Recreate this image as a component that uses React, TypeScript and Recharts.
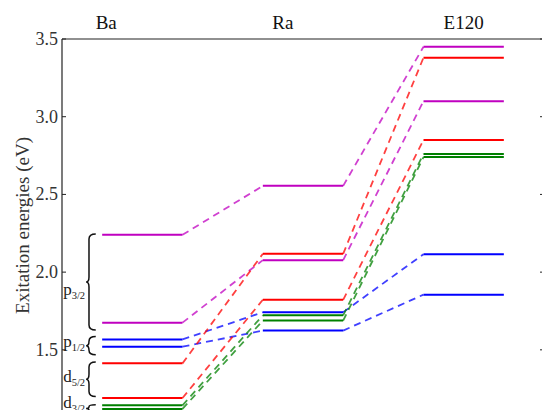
import { LineChart, Line, XAxis, YAxis, ReferenceArea } from 'recharts'

const atoms = ['Ba', 'Ra', 'E120']
const atomTicks = [1.05, 3.25, 5.5]
const energyTicks = [1.5, 2.0, 2.5, 3.0, 3.5]

// excitation energies (eV) of each state, same order in every array
const states = ['1P1', '3P2', '3P1', '3P0', '1D2', '3D3', '3D2', '3D1']
const stateColors = ['#c000c0', '#c000c0', '#0000ff', '#0000ff', '#ff0000', '#ff0000', '#008000', '#008000']
const baLevels = [2.24, 1.675, 1.567, 1.52, 1.413, 1.19, 1.143, 1.12]
const raLevels = [2.555, 2.077, 1.742, 1.624, 2.118, 1.822, 1.722, 1.688]
const e120Levels = [3.45, 3.1, 2.115, 1.855, 3.38, 2.85, 2.76, 2.74]

// fine-structure groups bracketed next to the Ba levels
const groupLetters = ['p', 'p', 'd', 'd']
const groupJ = ['3/2', '1/2', '5/2', '3/2']
const groupTop = [2.245, 1.585, 1.422, 1.146]
const groupBottom = [1.628, 1.468, 1.2, 1.1]
const groupLabelAt = [1.85, 1.52, 1.295, 1.125]

const ink = '#222'
const font = '"Liberation Serif", "Times New Roman", serif'

const solidData = (i: number) => [
  { x: 1, e: baLevels[i] },
  { x: 2, e: baLevels[i] },
  { x: 2.5, e: null },
  { x: 3, e: raLevels[i] },
  { x: 4, e: raLevels[i] },
  { x: 4.5, e: null },
  { x: 5, e: e120Levels[i] },
  { x: 6, e: e120Levels[i] },
]

const dashedData = (i: number) => [
  { x: 2, e: baLevels[i] },
  { x: 3, e: raLevels[i] },
  { x: 3.5, e: null },
  { x: 4, e: raLevels[i] },
  { x: 5, e: e120Levels[i] },
]

const AtomTick = ({ x, y, payload }: any) => (
  <text x={x} y={y} textAnchor="middle" fontSize={19} fill="#111" fontFamily={font}>
    {atoms[atomTicks.indexOf(payload.value)]}
  </text>
)

const LeftTick = ({ x, y, payload }: any) => (
  <g>
    <line x1={x + 4} x2={x + 8} y1={y} y2={y} stroke={ink} strokeWidth={1} />
    <text x={x} y={y} textAnchor="end" dominantBaseline="central" fontSize={18} fill="#333" fontFamily={font}>
      {payload.value.toFixed(1)}
    </text>
  </g>
)

const RightTick = ({ x, y }: any) => (
  <line x1={x - 4} x2={x} y1={y} y2={y} stroke={ink} strokeWidth={1} />
)

const EnergyLabel = ({ viewBox }: any) => {
  const cx = viewBox.x + 22
  const cy = viewBox.y + viewBox.height / 2
  return (
    <text
      x={cx}
      y={cy}
      transform={`rotate(-90 ${cx} ${cy})`}
      textAnchor="middle"
      dominantBaseline="central"
      fontSize={19}
      fill="#333"
      fontFamily={font}
    >
      Exitation energies (eV)
    </text>
  )
}

// curly brace opening to the right, with the term label on its left
const Brace = ({ x, y, width, height, idx }: any) => {
  const stem = x + width * 0.3
  const mid = y + height / 2
  const r = Math.min(5, height / 4)
  const d =
    `M${x + width},${y} Q${stem},${y} ${stem},${y + r} ` +
    `L${stem},${mid - r} Q${stem},${mid} ${x},${mid} ` +
    `Q${stem},${mid} ${stem},${mid + r} ` +
    `L${stem},${y + height - r} Q${stem},${y + height} ${x + width},${y + height}`
  const frac = (groupTop[idx] - groupLabelAt[idx]) / (groupTop[idx] - groupBottom[idx])
  return (
    <g>
      <path d={d} fill="none" stroke="#111" strokeWidth={1.5} />
      <text x={x - 1} y={y + height * frac} textAnchor="end" fill="#222" fontFamily={font}>
        <tspan fontSize={17}>{groupLetters[idx]}</tspan>
        <tspan fontSize={10.5} dy={4}>{groupJ[idx]}</tspan>
      </text>
    </g>
  )
}

export default function App() {
  return (
    <div style={{ position: 'absolute', left: 0, top: 0, width: 542, height: 410, overflow: 'hidden', background: '#fff' }}>
      <LineChart width={564} height={412} margin={{ top: 0, right: 0, bottom: 0, left: 0 }} style={{ fontFamily: font }}>
        <XAxis
          dataKey="x"
          type="number"
          orientation="top"
          domain={[0.5, 6.5]}
          ticks={atomTicks}
          interval={0}
          allowDataOverflow
          height={39}
          tickSize={0}
          tickMargin={10}
          tickLine={false}
          tick={<AtomTick />}
          axisLine={{ stroke: ink, strokeWidth: 1.2 }}
        />
        <YAxis
          type="number"
          domain={[1.1, 3.5]}
          ticks={energyTicks}
          interval={0}
          allowDataOverflow
          width={62}
          tickSize={0}
          tickMargin={4}
          tickLine={false}
          tick={<LeftTick />}
          axisLine={{ stroke: ink, strokeWidth: 1.2 }}
          label={{ content: <EnergyLabel /> }}
        />
        <YAxis
          yAxisId="r"
          orientation="right"
          type="number"
          domain={[1.1, 3.5]}
          ticks={energyTicks}
          interval={0}
          allowDataOverflow
          width={20}
          tickSize={0}
          tickMargin={0}
          tickLine={false}
          tick={<RightTick />}
          axisLine={{ stroke: ink, strokeWidth: 1.2 }}
        />
        {groupJ.map((j, i) => (
          <ReferenceArea
            key={`brace-${i}`}
            x1={0.8}
            x2={0.92}
            y1={groupBottom[i]}
            y2={groupTop[i]}
            ifOverflow="visible"
            shape={(p: any) => <Brace {...p} idx={i} />}
          />
        ))}
        {states.map((s, i) => (
          <Line
            key={`dash-${s}`}
            data={dashedData(i)}
            dataKey="e"
            stroke={stateColors[i]}
            strokeOpacity={0.75}
            strokeWidth={1.8}
            strokeDasharray="7 5"
            dot={false}
            activeDot={false}
            isAnimationActive={false}
          />
        ))}
        {states.map((s, i) => (
          <Line
            key={`level-${s}`}
            data={solidData(i)}
            dataKey="e"
            stroke={stateColors[i]}
            strokeWidth={2}
            dot={false}
            activeDot={false}
            isAnimationActive={false}
          />
        ))}
      </LineChart>
    </div>
  )
}
